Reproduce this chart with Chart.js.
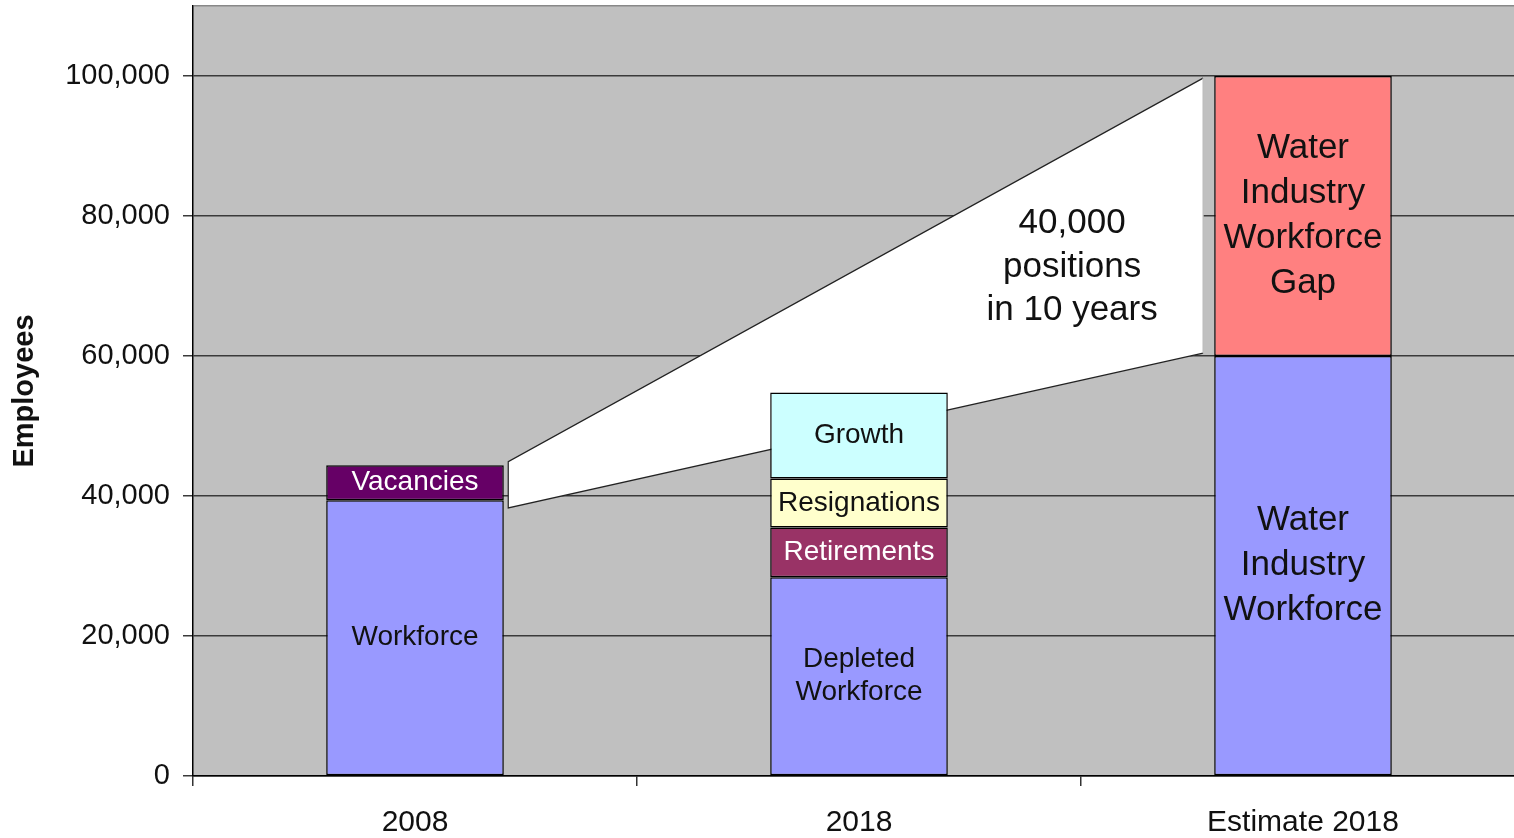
<!DOCTYPE html>
<html>
<head>
<meta charset="utf-8">
<script src="https://cdn.jsdelivr.net/npm/chart.js@4.4.1/dist/chart.umd.min.js"></script>
<style>
  html, body { margin: 0; padding: 0; background: #fff; overflow: hidden; }
  #caja { position: relative; width: 1525px; height: 838px; }
</style>
</head>
<body>
<div id="caja"><canvas id="grafica"></canvas></div>
<script>
const categorias = ['2008', '2018', 'Estimate 2018'];
const plantilla = [39400, 28400, 60000];
const jubilaciones = [null, 7100, null];
const dimisiones = [null, 7000, null];
const crecimiento = [null, 12300, null];
const vacantes = [5000, null, null];
const brecha = [null, null, 40000];

const etiquetasPlantilla = ['Workforce', 'Depleted\nWorkforce', 'Water\nIndustry\nWorkforce'];
const etiquetasJubilaciones = [null, 'Retirements', null];
const etiquetasDimisiones = [null, 'Resignations', null];
const etiquetasCrecimiento = [null, 'Growth', null];
const etiquetasVacantes = ['Vacancies', null, null];
const etiquetasBrecha = [null, null, 'Water\nIndustry\nWorkforce\nGap'];

const ticksY = [0, 20000, 40000, 60000, 80000, 100000];

// cuña blanca entre 2008 y la estimación (indice de categoria, empleados)
const cunaX = [0.21, 0.21, 1.775, 1.775];
const cunaY = [44900, 38300, 60400, 99700];
const textoCuna = ['40,000', 'positions', 'in 10 years'];

const FUENTE = '"Liberation Sans", Arial, sans-serif';

const fondo = {
  id: 'fondo',
  beforeDraw(chart) {
    const { ctx, chartArea: a } = chart;
    ctx.save();
    ctx.fillStyle = '#c0c0c0';
    ctx.fillRect(a.left, a.top, a.right - a.left, a.bottom - a.top);
    ctx.restore();
  }
};

const cuna = {
  id: 'cuna',
  beforeDatasetsDraw(chart) {
    const { ctx, scales: { x, y } } = chart;
    const px = cunaX.map(v => x.getPixelForValue(v));
    const py = cunaY.map(v => y.getPixelForValue(v));
    ctx.save();
    ctx.beginPath();
    ctx.moveTo(px[0], py[0]);
    for (let i = 1; i < px.length; i++) ctx.lineTo(px[i], py[i]);
    ctx.closePath();
    ctx.fillStyle = '#fff';
    ctx.fill();
    // bordes oscuros salvo el lado derecho
    ctx.beginPath();
    ctx.moveTo(px[3], py[3]);
    ctx.lineTo(px[0], py[0]);
    ctx.lineTo(px[1], py[1]);
    ctx.lineTo(px[2], py[2]);
    ctx.strokeStyle = '#222';
    ctx.lineWidth = 1.2;
    ctx.stroke();
    ctx.beginPath();
    ctx.moveTo(px[2], py[2]);
    ctx.lineTo(px[3], py[3]);
    ctx.strokeStyle = '#bbb';
    ctx.stroke();

    ctx.fillStyle = '#111';
    ctx.font = '35px ' + FUENTE;
    ctx.textAlign = 'center';
    ctx.textBaseline = 'middle';
    const cx = x.getPixelForValue(1.48);
    const cy = y.getPixelForValue(72700);
    textoCuna.forEach((t, i) => ctx.fillText(t, cx, cy + (i - 1) * 43.5));
    ctx.restore();
  }
};

const rotulos = {
  id: 'rotulos',
  afterDatasetsDraw(chart) {
    const { ctx } = chart;
    ctx.save();
    ctx.textAlign = 'center';
    ctx.textBaseline = 'middle';
    chart.data.datasets.forEach((ds, i) => {
      const meta = chart.getDatasetMeta(i);
      meta.data.forEach((bar, j) => {
        const texto = ds.rotulos[j];
        if (!texto || ds.data[j] == null) return;
        const lineas = texto.split('\n');
        const grande = j === 2;
        const tam = grande ? 35 : 28;
        const alto = grande ? 45 : 33;
        ctx.font = tam + 'px ' + FUENTE;
        ctx.fillStyle = ds.colorTexto;
        const cy = (bar.y + bar.base) / 2;
        lineas.forEach((l, k) => ctx.fillText(l, bar.x, cy + (k - (lineas.length - 1) / 2) * alto));
      });
    });
    ctx.restore();
  }
};

const serie = (label, data, color, rotulos, colorTexto) => ({
  label, data, backgroundColor: color, rotulos, colorTexto,
  borderColor: '#000', borderWidth: 1.5, borderSkipped: false,
  categoryPercentage: 1, barPercentage: 0.4, stack: 'a'
});

new Chart(document.getElementById('grafica'), {
  type: 'bar',
  data: {
    labels: categorias,
    datasets: [
      serie('Workforce', plantilla, '#9999ff', etiquetasPlantilla, '#111'),
      serie('Retirements', jubilaciones, '#993366', etiquetasJubilaciones, '#fff'),
      serie('Resignations', dimisiones, '#ffffcc', etiquetasDimisiones, '#111'),
      serie('Growth', crecimiento, '#ccffff', etiquetasCrecimiento, '#111'),
      serie('Vacancies', vacantes, '#660066', etiquetasVacantes, '#fff'),
      serie('Gap', brecha, '#ff8080', etiquetasBrecha, '#111')
    ]
  },
  options: {
    responsive: true,
    maintainAspectRatio: false,
    animation: false,
    layout: { padding: { top: 6, left: 0, right: 0, bottom: 0 } },
    plugins: { legend: { display: false }, tooltip: { enabled: false } },
    scales: {
      x: {
        stacked: true,
        afterFit: s => { s.height = 62; s.paddingLeft = 0; s.paddingRight = 0; },
        grid: { offset: true, drawOnChartArea: false, drawTicks: true, tickLength: 10, color: '#333', lineWidth: 1.5 },
        border: { color: '#000', width: 1.5 },
        ticks: { color: '#111', padding: 19, font: { family: FUENTE, size: 30 } }
      },
      y: {
        stacked: true,
        min: 0,
        max: 110000,
        afterFit: s => { s.width = 193; s.paddingTop = 0; s.paddingBottom = 0; },
        afterBuildTicks: s => { s.ticks = ticksY.concat([110000]).map(v => ({ value: v })); },
        grid: {
          tickLength: 10,
          lineWidth: 1.5,
          color: c => c.tick && c.tick.value === 110000 ? '#888' : '#3a3a3a',
          tickColor: c => c.tick && c.tick.value === 110000 ? 'rgba(0,0,0,0)' : '#3a3a3a'
        },
        border: { color: '#000', width: 1.5 },
        ticks: {
          color: '#111',
          padding: 13,
          font: { family: FUENTE, size: 29 },
          callback: v => v === 110000 ? '' : v.toLocaleString('en-US')
        },
        title: {
          display: true,
          text: 'Employees',
          color: '#111',
          padding: { top: 8, bottom: 0 },
          font: { family: FUENTE, size: 29, weight: 'bold' }
        }
      }
    }
  },
  plugins: [fondo, cuna, rotulos]
});
</script>
</body>
</html>
